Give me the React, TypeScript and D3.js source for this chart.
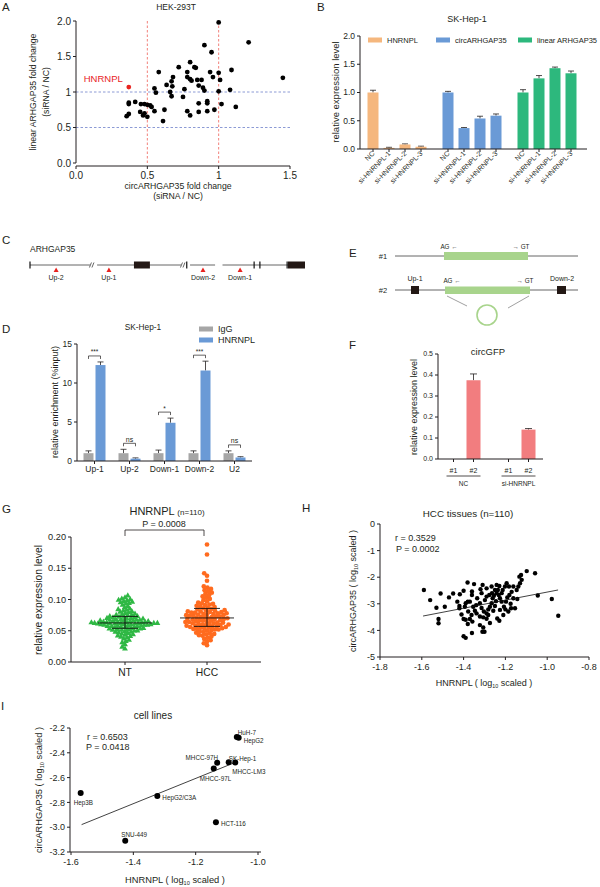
import React from 'react';
import * as d3 from 'd3';

const FONT = "'Liberation Sans', Arial, Helvetica, sans-serif";
const INK = '#231F20';

// ---------------- Panel A data ----------------
const aTitle = 'HEK-293T';
const aPoints: [number, number][] = [
  [1.0, 1.98], [1.21, 1.7], [1.45, 1.2], [0.9, 1.66], [0.95, 1.56], [1.09, 1.31], [0.8, 1.42],
  [0.72, 1.35], [0.83, 1.35], [0.84, 1.34], [0.58, 1.28], [0.94, 1.28], [1.0, 1.27], [0.96, 1.21],
  [0.78, 1.28], [0.68, 1.21], [0.78, 1.21], [0.8, 1.18], [0.81, 1.16], [0.67, 1.15], [0.85, 1.17],
  [0.88, 1.17], [1.01, 1.17], [0.635, 1.1], [0.675, 1.08], [0.86, 1.09], [0.89, 1.06], [0.55, 1.05],
  [0.56, 0.99], [0.66, 1.0], [0.76, 1.04], [0.9, 1.02], [1.0, 1.01], [1.08, 1.03], [0.67, 0.94],
  [0.75, 0.93], [0.37, 0.85], [0.37, 0.83], [0.415, 0.86], [0.455, 0.83], [0.48, 0.83], [0.5, 0.82],
  [0.52, 0.81], [0.53, 0.79], [0.86, 0.84], [0.92, 0.87], [0.92, 0.84], [1.02, 0.83], [1.12, 0.79],
  [0.45, 0.72], [0.48, 0.7], [0.55, 0.73], [0.62, 0.75], [0.78, 0.73], [0.86, 0.72], [0.92, 0.73],
  [0.97, 0.75], [0.37, 0.69], [0.355, 0.66], [0.47, 0.67], [0.5, 0.65], [0.61, 0.59], [0.8, 0.67],
];
const aHighlightName = 'HNRNPL';
const aHighlight: [number, number] = [0.37, 1.07];
const aXTicks = [0, 0.5, 1, 1.5];
const aXLabels = ['0.0', '0.5', '1', '1.5'];
const aYTicks = [0, 0.5, 1, 1.5, 2];
const aYLabels = ['0.0', '0.5', '1', '1.5', '2.0'];
const aRefX = [0.5, 1];
const aRefY = [0.5, 1];

// ---------------- Panel B data ----------------
const bTitle = 'SK-Hep-1';
const bSeries = ['HNRNPL', 'circARHGAP35', 'linear ARHGAP35'];
const bConditions = ['NC', 'si-HNRNPL-1', 'si-HNRNPL-2', 'si-HNRNPL-3'];
const bHNRNPL = [1.0, 0.02, 0.08, 0.04];
const bHNRNPLErr = [0.04, 0.01, 0.01, 0.01];
const bCirc = [1.0, 0.37, 0.54, 0.59];
const bCircErr = [0.02, 0.01, 0.04, 0.03];
const bLinear = [1.0, 1.25, 1.43, 1.34];
const bLinearErr = [0.05, 0.05, 0.02, 0.04];
const bYTicks = [0, 0.5, 1, 1.5, 2];

// ---------------- Panel D data ----------------
const dTitle = 'SK-Hep-1';
const dSites = ['Up-1', 'Up-2', 'Down-1', 'Down-2', 'U2'];
const dIgG = [1.0, 1.0, 1.0, 1.0, 1.0];
const dIgGErr = [0.3, 0.5, 0.4, 0.3, 0.3];
const dHNRNPL = [12.3, 0.3, 4.9, 11.6, 0.45];
const dHNRNPLErr = [0.4, 0.1, 0.6, 1.2, 0.1];
const dSig = ['***', 'ns', '*', '***', 'ns'];
const dYTicks = [0, 5, 10, 15];

// ---------------- Panel F data ----------------
const fTitle = 'circGFP';
const fGroups = ['NC', 'si-HNRNPL'];
const fConstructs = ['#1', '#2'];
const fValues = [[0, 0.375], [0, 0.14]];
const fErr = [[0, 0.03], [0, 0.005]];
const fYTicks = [0, 0.1, 0.2, 0.3, 0.4, 0.5];

// ---------------- Panel G data ----------------
const gGroups = ['NT', 'HCC'];
const gNT = [
  0.021, 0.024, 0.028, 0.031, 0.033, 0.035, 0.037, 0.039, 0.04, 0.041,
  0.042, 0.043, 0.044, 0.045, 0.046, 0.047, 0.048, 0.048, 0.049, 0.05,
  0.05, 0.051, 0.051, 0.052, 0.052, 0.053, 0.053, 0.054, 0.054, 0.055,
  0.055, 0.056, 0.056, 0.057, 0.057, 0.057, 0.058, 0.058, 0.058, 0.059,
  0.059, 0.059, 0.06, 0.06, 0.06, 0.06, 0.061, 0.061, 0.061, 0.061,
  0.062, 0.062, 0.062, 0.062, 0.062, 0.063, 0.063, 0.063, 0.063, 0.064,
  0.064, 0.064, 0.065, 0.065, 0.065, 0.066, 0.066, 0.066, 0.067, 0.067,
  0.067, 0.068, 0.068, 0.069, 0.069, 0.07, 0.07, 0.071, 0.071, 0.072,
  0.072, 0.073, 0.073, 0.074, 0.075, 0.075, 0.076, 0.077, 0.078, 0.079,
  0.08, 0.081, 0.082, 0.083, 0.084, 0.085, 0.087, 0.089, 0.091, 0.093,
  0.094, 0.095, 0.096, 0.097, 0.098, 0.099, 0.1, 0.101, 0.103, 0.106,
];
const gHCC = [
  0.027, 0.03, 0.033, 0.035, 0.037, 0.039, 0.041, 0.042, 0.043, 0.044,
  0.045, 0.046, 0.047, 0.048, 0.049, 0.05, 0.051, 0.052, 0.052, 0.053,
  0.053, 0.054, 0.054, 0.055, 0.055, 0.056, 0.056, 0.057, 0.057, 0.058,
  0.058, 0.059, 0.059, 0.06, 0.06, 0.061, 0.061, 0.062, 0.062, 0.063,
  0.063, 0.064, 0.064, 0.065, 0.065, 0.066, 0.066, 0.067, 0.067, 0.068,
  0.068, 0.069, 0.069, 0.07, 0.07, 0.071, 0.071, 0.072, 0.072, 0.073,
  0.073, 0.074, 0.074, 0.075, 0.075, 0.076, 0.076, 0.077, 0.077, 0.078,
  0.078, 0.079, 0.079, 0.08, 0.08, 0.081, 0.081, 0.082, 0.082, 0.083,
  0.084, 0.085, 0.086, 0.087, 0.088, 0.089, 0.09, 0.091, 0.092, 0.093,
  0.094, 0.095, 0.097, 0.099, 0.101, 0.103, 0.105, 0.107, 0.109, 0.111,
  0.113, 0.115, 0.117, 0.119, 0.121, 0.13, 0.138, 0.142, 0.172, 0.188,
];
const gYTicks = [0, 0.05, 0.1, 0.15, 0.2];
const gPText = 'P = 0.0008';

// ---------------- Panel H data ----------------
const hTitle = 'HCC tissues (n=110)';
const hR = 'r = 0.3529';
const hP = 'P = 0.0002';
const hPoints: [number, number][] = [
  [-1.59, -2.48], [-1.56, -2.86], [-1.53, -3.15], [-1.52, -3.57], [-1.52, -3.73], [-1.51, -2.61],
  [-1.49, -3.11], [-1.47, -2.76], [-1.45, -2.61], [-1.43, -2.92], [-1.42, -3.08], [-1.42, -3.17],
  [-1.4, -2.51], [-1.41, -3.4], [-1.4, -3.57], [-1.39, -3.6], [-1.37, -3.57], [-1.36, -2.67],
  [-1.35, -2.26], [-1.36, -2.54], [-1.38, -2.92], [-1.39, -2.98], [-1.38, -3.76], [-1.36, -4.1],
  [-1.4, -4.22], [-1.39, -4.28], [-1.31, -4.05], [-1.3, -4.05], [-1.354, -3.11], [-1.346, -3.26],
  [-1.338, -3.36], [-1.322, -3.48], [-1.306, -3.51], [-1.29, -3.56], [-1.335, -2.79], [-1.322, -2.98],
  [-1.314, -3.16], [-1.303, -3.29], [-1.29, -3.36], [-1.282, -3.21], [-1.274, -3.11], [-1.266, -2.98],
  [-1.261, -2.79], [-1.255, -2.7], [-1.242, -2.6], [-1.236, -2.48], [-1.229, -2.33], [-1.242, -2.29],
  [-1.25, -2.48], [-1.264, -2.6], [-1.277, -2.67], [-1.29, -2.73], [-1.298, -2.86], [-1.309, -2.29],
  [-1.319, -2.45], [-1.314, -2.6], [-1.232, -2.67], [-1.226, -2.79], [-1.218, -2.92], [-1.207, -3.11],
  [-1.197, -2.92], [-1.191, -2.76], [-1.181, -2.67], [-1.202, -2.35], [-1.194, -2.23], [-1.162, -2.79],
  [-1.175, -3.0], [-1.173, -3.17], [-1.2, -3.21], [-1.226, -3.23], [-1.239, -3.55], [-1.229, -3.64],
  [-1.274, -3.72], [-1.133, -1.98], [-1.125, -1.92], [-1.098, -1.77], [-1.058, -1.85], [-1.122, -2.1],
  [-1.138, -2.35], [-1.13, -2.23], [-1.146, -2.48], [-1.045, -2.69], [-0.978, -2.82], [-0.947, -3.45],
  [-1.143, -2.82], [-1.154, -3.17], [-1.186, -3.29], [-1.21, -3.42], [-1.381, -2.2], [-1.418, -2.64],
  [-1.37, -2.92], [-1.394, -3.11], [-1.378, -3.29], [-1.362, -3.42], [-1.358, -3.67], [-1.322, -3.8],
  [-1.306, -3.89], [-1.282, -3.42], [-1.258, -3.26], [-1.25, -3.08], [-1.213, -2.48], [-1.218, -2.6],
  [-1.162, -2.35], [-1.183, -2.35], [-1.29, -2.42], [-1.266, -2.35], [-1.17, -2.55],
  [-1.245, -2.9], [-1.34, -3.05],
];
const hFit = { slope: 1.517, intercept: -1.042, from: -1.594, to: -0.948 };
const hXTicks = [-1.8, -1.6, -1.4, -1.2, -1.0, -0.8];
const hYTicks = [0, -1, -2, -3, -4, -5];

// ---------------- Panel I data ----------------
const iTitle = 'cell lines';
const iR = 'r = 0.6503';
const iP = 'P = 0.0418';
const iNames = ['Hep3B', 'SNU-449', 'HepG2/C3A', 'HCT-116', 'MHCC-97H', 'MHCC-97L', 'SK-Hep-1', 'MHCC-LM3', 'HuH-7', 'HepG2'];
const iX = [-1.569, -1.426, -1.323, -1.135, -1.131, -1.142, -1.094, -1.073, -1.068, -1.062];
const iY = [-2.725, -3.11, -2.749, -2.96, -2.481, -2.527, -2.476, -2.479, -2.272, -2.278];
const iFit = { slope: 1.018, intercept: -1.385, from: -1.566, to: -1.079 };
const iXTicks = [-1.6, -1.4, -1.2, -1.0];
const iYTicks = [-2.2, -2.4, -2.6, -2.8, -3.0, -3.2];

// label placement (layout only)
const iLabelLayout: Record<string, [number, number, string]> = {
  'Hep3B': [-7, 10, 'start'],
  'SNU-449': [-4, -6, 'start'],
  'HepG2/C3A': [5, 2, 'start'],
  'HCT-116': [5, 2, 'start'],
  'MHCC-97H': [1, -5, 'end'],
  'MHCC-97L': [-14, 10, 'start'],
  'SK-Hep-1': [0, -3, 'start'],
  'MHCC-LM3': [-3, 9, 'start'],
  'HuH-7': [1, -4, 'start'],
  'HepG2': [5, 3, 'start'],
};

// ---------------- helpers ----------------
const fmtNum = (f: string) => (v: number) => d3.format(f)(v).replace('\u2212', '-');

function T(props: any) {
  return <text fontFamily={FONT} fill={INK} {...props} />;
}

function LeftAxis({ scale, x, ticks, labels, fontSize, len = 3 }: any) {
  const r = scale.range();
  return (
    <g>
      <line x1={x} x2={x} y1={r[0]} y2={r[1]} stroke={INK} strokeWidth={1} />
      {ticks.map((t: number, i: number) => (
        <g key={i}>
          <line x1={x - len} x2={x} y1={scale(t)} y2={scale(t)} stroke={INK} strokeWidth={1} />
          <T x={x - len - 2} y={scale(t)} dy="0.35em" textAnchor="end" fontSize={fontSize}>{labels[i]}</T>
        </g>
      ))}
    </g>
  );
}

function BottomAxis({ positions, y, x1, x2, labels, fontSize, len = 3, labelDy = 10 }: any) {
  return (
    <g>
      <line x1={x1} x2={x2} y1={y} y2={y} stroke={INK} strokeWidth={1} />
      {positions.map((p: number, i: number) => (
        <g key={i}>
          <line x1={p} x2={p} y1={y} y2={y + len} stroke={INK} strokeWidth={1} />
          {labels && <T x={p} y={y + len + labelDy} textAnchor="middle" fontSize={fontSize}>{labels[i]}</T>}
        </g>
      ))}
    </g>
  );
}

function RotLabel({ x, y, children, fontSize }: any) {
  return (
    <T transform={`translate(${x},${y}) rotate(-90)`} textAnchor="middle" dy="0.35em" fontSize={fontSize}>{children}</T>
  );
}

function PanelLetter({ x, y, ch }: any) {
  return <T x={x} y={y} fontSize={11.5}>{ch}</T>;
}

function ErrBar({ x, yTop, yBase, w = 3.5 }: any) {
  return (
    <g stroke={INK} strokeWidth={0.8}>
      <line x1={x} x2={x} y1={yBase} y2={yTop} />
      <line x1={x - w} x2={x + w} y1={yTop} y2={yTop} />
    </g>
  );
}

function beeswarm(values: number[], y: (v: number) => number, cx: number, r: number) {
  const items = values.map((v) => ({ v, py: y(v) })).sort((a, b) => b.py - a.py);
  const placed: { x: number; y: number }[] = [];
  for (const p of items) {
    let off = 0;
    for (let k = 0; k < 400; k++) {
      const o = (k % 2 === 0 ? 1 : -1) * Math.ceil(k / 2) * 0.4;
      const xx = cx + o;
      let ok = true;
      for (const q of placed) {
        const dx = q.x - xx, dy = q.y - p.py;
        if (dx * dx + dy * dy < 4 * r * r) { ok = false; break; }
      }
      if (ok) { off = o; break; }
    }
    placed.push({ x: cx + off, y: p.py });
  }
  return placed;
}

// ---------------- Panels ----------------
function PanelA() {
  const x = d3.scaleLinear().domain([0, 1.5]).range([76, 290]);
  const y = d3.scaleLinear().domain([0, 2]).range([163, 21]);
  return (
    <g>
      <PanelLetter x={2} y={11} ch="A" />
      <T x={176} y={10} textAnchor="middle" fontSize={8.5}>{aTitle}</T>
      {aRefY.map((v) => (
        <line key={'ry' + v} x1={x(0)} x2={x(1.5)} y1={y(v)} y2={y(v)} stroke="#7F8FD0" strokeWidth={0.9} strokeDasharray="2.5,2" />
      ))}
      {aRefX.map((v) => (
        <line key={'rx' + v} x1={x(v)} x2={x(v)} y1={y(0)} y2={y(2)} stroke="#F0736B" strokeWidth={0.9} strokeDasharray="2.5,2" />
      ))}
      <LeftAxis scale={y} x={76} ticks={aYTicks} labels={aYLabels} fontSize={10} />
      <BottomAxis positions={aXTicks.map(x)} y={166} x1={76} x2={290} labels={aXLabels} fontSize={10} labelDy={10} />
      {aPoints.map((p, i) => (
        <circle key={i} cx={x(p[0])} cy={y(p[1])} r={2.4} fill="#000" />
      ))}
      <circle cx={x(aHighlight[0])} cy={y(aHighlight[1])} r={2.4} fill="#E8231F" />
      <T x={x(aHighlight[0]) - 6} y={y(aHighlight[1]) - 5} textAnchor="end" fontSize={9.5} fill="#E8231F">{aHighlightName}</T>
      <T x={178} y={189} textAnchor="middle" fontSize={8.7}>circARHGAP35 fold change</T>
      <T x={178} y={199} textAnchor="middle" fontSize={8.7}>(siRNA / NC)</T>
      <RotLabel x={33} y={92} fontSize={8.7}>linear ARHGAP35 fold change</RotLabel>
      <RotLabel x={46} y={92} fontSize={8.7}>(siRNA / NC)</RotLabel>
    </g>
  );
}

function PanelB() {
  const y = d3.scaleLinear().domain([0, 2]).range([149, 36]);
  const xg = d3.scaleBand().domain(bSeries).range([365, 579]).paddingInner(11 / 75);
  const xc = d3.scalePoint().domain(bConditions).range([8, 56]);
  const colors = ['#F5B77E', '#6A9AD6', '#2DB87D'];
  const vals = [bHNRNPL, bCirc, bLinear];
  const errs = [bHNRNPLErr, bCircErr, bLinearErr];
  const bw = 11;
  const legendX = [368, 436, 518];
  return (
    <g>
      <PanelLetter x={317} y={11} ch="B" />
      <T x={467} y={22} textAnchor="middle" fontSize={9}>{bTitle}</T>
      {bSeries.map((s, i) => (
        <g key={s}>
          <rect x={legendX[i]} y={37.5} width={14} height={5} fill={colors[i]} />
          <T x={legendX[i] + 19} y={40} dy="0.35em" fontSize={7.5}>{s}</T>
        </g>
      ))}
      {bSeries.map((s, si) =>
        bConditions.map((c, ci) => {
          const cx = (xg(s) as number) + (xc(c) as number);
          const v = vals[si][ci];
          const e = errs[si][ci];
          return (
            <g key={s + c}>
              <ErrBar x={cx} yTop={y(v + e)} yBase={y(v)} w={3} />
              <rect x={cx - bw / 2} y={y(v)} width={bw} height={y(0) - y(v)} fill={colors[si]} />
              <T transform={`translate(${cx + 2},${154}) rotate(-45)`} textAnchor="end" fontSize={7}>{c}</T>
            </g>
          );
        })
      )}
      <LeftAxis scale={y} x={360} ticks={bYTicks} labels={bYTicks.map(fmtNum('.1f'))} fontSize={8.5} />
      <line x1={360} x2={587} y1={149} y2={149} stroke={INK} />
      {bSeries.map((s) =>
        bConditions.map((c) => {
          const cx = (xg(s) as number) + (xc(c) as number);
          return <line key={'t' + s + c} x1={cx} x2={cx} y1={149} y2={152} stroke={INK} />;
        })
      )}
      <RotLabel x={336} y={92} fontSize={9.5}>relative expression level</RotLabel>
    </g>
  );
}

function PanelC() {
  const g = d3.scaleLinear().domain([0, 100]).range([30, 305]);
  const segs: [number, number][] = [[0, 21.8], [24.4, 54.9], [58.2, 67.3], [70, 100]];
  const ticks = [0, 57, 81.5, 83.6, 93.5];
  const exons: [number, number][] = [[37.8, 43.6], [93.8, 100]];
  const sites = [{ n: 'Up-2', p: 9.5 }, { n: 'Up-1', p: 28.7 }, { n: 'Down-2', p: 62.9 }, { n: 'Down-1', p: 76.4 }];
  const ly = 265;
  return (
    <g>
      <PanelLetter x={2} y={244} ch="C" />
      <T x={30} y={252} fontSize={8.5}>ARHGAP35</T>
      {segs.map((s, i) => (
        <line key={i} x1={g(s[0])} x2={g(s[1])} y1={ly} y2={ly} stroke="#555" strokeWidth={0.9} />
      ))}
      {[21.8, 54.9].map((b, i) => (
        <g key={'br' + i} stroke="#555" strokeWidth={0.9}>
          <line x1={g(b) - 0.5} x2={g(b) + 1.5} y1={ly + 2.5} y2={ly - 2.5} />
          <line x1={g(b) + 2} x2={g(b) + 4} y1={ly + 2.5} y2={ly - 2.5} />
        </g>
      ))}
      {ticks.map((t, i) => (
        <line key={'tk' + i} x1={g(t)} x2={g(t)} y1={ly - 3.5} y2={ly + 3.5} stroke="#111" strokeWidth={1.2} />
      ))}
      {exons.map((e, i) => (
        <rect key={'ex' + i} x={g(e[0])} y={ly - 3.5} width={g(e[1]) - g(e[0])} height={7} fill="#231815" />
      ))}
      {sites.map((s) => (
        <g key={s.n}>
          <path d={`M${g(s.p) - 2.5},${ly + 7} L${g(s.p) + 2.5},${ly + 7} L${g(s.p)},${ly + 2.5} Z`} fill="#E8231F" />
          <T x={g(s.p)} y={ly + 15} textAnchor="middle" fontSize={7}>{s.n}</T>
        </g>
      ))}
    </g>
  );
}

function PanelE() {
  const green = '#A8D48C';
  return (
    <g>
      <PanelLetter x={349} y={257} ch="E" />
      <T x={383} y={256} dy="0.35em" textAnchor="middle" fontSize={7.5}>#1</T>
      <line x1={395} x2={578} y1={256} y2={256} stroke="#555" strokeWidth={0.9} />
      <rect x={444} y={252} width={84} height={8} fill={green} />
      <T x={449} y={249} textAnchor="middle" fontSize={6.3}>AG ←</T>
      <T x={521} y={249} textAnchor="middle" fontSize={6.3}>→ GT</T>

      <T x={383} y={290} dy="0.35em" textAnchor="middle" fontSize={7.5}>#2</T>
      <line x1={395} x2={578} y1={290} y2={290} stroke="#555" strokeWidth={0.9} />
      <rect x={411} y={286} width={8} height={8} fill="#231815" />
      <rect x={557} y={286} width={9} height={8} fill="#231815" />
      <rect x={445} y={286.5} width={85} height={7.5} fill={green} />
      <T x={415} y={281} textAnchor="middle" fontSize={7}>Up-1</T>
      <T x={562} y={281} textAnchor="middle" fontSize={7}>Down-2</T>
      <T x={452} y={283} textAnchor="middle" fontSize={6.3}>AG ←</T>
      <T x={525} y={283} textAnchor="middle" fontSize={6.3}>→ GT</T>
      <line x1={447} x2={467} y1={296} y2={306} stroke="#777" strokeWidth={0.7} />
      <line x1={529} x2={508} y1={296} y2={308} stroke="#777" strokeWidth={0.7} />
      <circle cx={487} cy={315} r={10} fill="none" stroke={green} strokeWidth={1.6} />
    </g>
  );
}

function PanelD() {
  const y = d3.scaleLinear().domain([0, 15]).range([461, 344]);
  const x = d3.scaleBand().domain(dSites).range([77, 252]);
  const bw = 10;
  const grey = '#A6A6A6';
  const blue = '#6A9AD6';
  return (
    <g>
      <PanelLetter x={2} y={333} ch="D" />
      <T x={143} y={330} textAnchor="middle" fontSize={8.3}>{dTitle}</T>
      <rect x={199} y={326.5} width={14} height={5} fill={grey} />
      <T x={218} y={329} dy="0.35em" fontSize={9}>IgG</T>
      <rect x={199} y={337.5} width={14} height={5} fill={blue} />
      <T x={218} y={340} dy="0.35em" fontSize={9}>HNRNPL</T>
      {dSites.map((s, i) => {
        const c = (x(s) as number) + x.bandwidth() / 2;
        const gx = c - 6, hx = c + 6;
        const top = Math.max(dIgG[i] + dIgGErr[i], dHNRNPL[i] + dHNRNPLErr[i]);
        const legB = y(top) - 3;
        const legT = legB - 3;
        return (
          <g key={s}>
            <ErrBar x={gx} yTop={y(dIgG[i] + dIgGErr[i])} yBase={y(dIgG[i])} w={3} />
            <rect x={gx - bw / 2} y={y(dIgG[i])} width={bw} height={y(0) - y(dIgG[i])} fill={grey} />
            <ErrBar x={hx} yTop={y(dHNRNPL[i] + dHNRNPLErr[i])} yBase={y(dHNRNPL[i])} w={3} />
            <rect x={hx - bw / 2} y={y(dHNRNPL[i])} width={bw} height={y(0) - y(dHNRNPL[i])} fill={blue} />
            <path d={`M${gx},${legB} L${gx},${legT} L${hx},${legT} L${hx},${legB}`} fill="none" stroke={INK} strokeWidth={0.7} />
            <T x={c} y={legT - 1.5} textAnchor="middle" fontSize={dSig[i] === 'ns' ? 7 : 6.5}>{dSig[i]}</T>
            <T x={c} y={472} textAnchor="middle" fontSize={8.5}>{s}</T>
          </g>
        );
      })}
      <LeftAxis scale={y} x={77} ticks={dYTicks} labels={dYTicks.map(String)} fontSize={8.5} />
      <line x1={77} x2={252} y1={461} y2={461} stroke={INK} />
      {dSites.map((s) => {
        const c = (x(s) as number) + x.bandwidth() / 2;
        return <line key={'t' + s} x1={c} x2={c} y1={461} y2={464} stroke={INK} />;
      })}
      <RotLabel x={55} y={402} fontSize={9}>relative enrichment (%input)</RotLabel>
    </g>
  );
}

function PanelF() {
  const y = d3.scaleLinear().domain([0, 0.5]).range([459, 354]);
  const xg = d3.scaleBand().domain(fGroups).range([436, 546]);
  const xc = d3.scalePoint().domain(fConstructs).range([-10, 10]);
  const bw = 14;
  const col = '#F27D7F';
  return (
    <g>
      <PanelLetter x={349} y={349} ch="F" />
      <T x={488} y={355} textAnchor="middle" fontSize={9.5}>{fTitle}</T>
      {fGroups.map((g, gi) => {
        const gc = (xg(g) as number) + xg.bandwidth() / 2;
        return (
          <g key={g}>
            {fConstructs.map((c, ci) => {
              const cx = gc + (xc(c) as number);
              const v = fValues[gi][ci];
              const e = fErr[gi][ci];
              return (
                <g key={c}>
                  {v > 0 && <ErrBar x={cx} yTop={y(v + e)} yBase={y(v)} w={3.5} />}
                  {v > 0 && <rect x={cx - bw / 2} y={y(v)} width={bw} height={y(0) - y(v)} fill={col} />}
                  <line x1={cx} x2={cx} y1={459} y2={462} stroke={INK} />
                  <T x={cx} y={473} textAnchor="middle" fontSize={7}>{c}</T>
                </g>
              );
            })}
            <line x1={gc - 17} x2={gc + 17} y1={476} y2={476} stroke={INK} strokeWidth={0.8} />
            <T x={gc} y={486} textAnchor="middle" fontSize={6.5}>{g}</T>
          </g>
        );
      })}
      <LeftAxis scale={y} x={438} ticks={fYTicks} labels={fYTicks.map(fmtNum('.1f'))} fontSize={7} />
      <line x1={438} x2={543} y1={459} y2={459} stroke={INK} />
      <RotLabel x={414} y={407} fontSize={9}>relative expression level</RotLabel>
    </g>
  );
}

function PanelG() {
  const y = d3.scaleLinear().domain([0, 0.2]).range([662, 537]);
  const x = d3.scalePoint().domain(gGroups).range([125, 207]);
  const ntX = x('NT') as number;
  const hccX = x('HCC') as number;
  const nt = beeswarm(gNT, y, ntX, 1.6);
  const hcc = beeswarm(gHCC, y, hccX, 1.75);
  const tri = d3.symbol().type(d3.symbolTriangle).size(15)() as string;
  const stats = (vals: number[]) => {
    const s = [...vals].sort(d3.ascending);
    return [d3.quantile(s, 0.25) as number, d3.quantile(s, 0.5) as number, d3.quantile(s, 0.75) as number];
  };
  const sNT = stats(gNT);
  const sHCC = stats(gHCC);
  const StatLines = ({ cx, s }: any) => (
    <g stroke="#111" strokeWidth={0.9}>
      <line x1={cx - 27} x2={cx + 27} y1={y(s[1])} y2={y(s[1])} />
      <line x1={cx} x2={cx} y1={y(s[0])} y2={y(s[2])} />
      <line x1={cx - 13} x2={cx + 13} y1={y(s[0])} y2={y(s[0])} />
      <line x1={cx - 13} x2={cx + 13} y1={y(s[2])} y2={y(s[2])} />
    </g>
  );
  return (
    <g>
      <PanelLetter x={2} y={513} ch="G" />
      <T x={167} y={515} textAnchor="middle">
        <tspan fontSize={11}>HNRNPL </tspan>
        <tspan fontSize={8}>(n=110)</tspan>
      </T>
      <T x={164} y={527} textAnchor="middle" fontSize={9}>{gPText}</T>
      <path d={`M${ntX},536 L${ntX},530 L${hccX - 3},530 L${hccX - 3},536`} fill="none" stroke={INK} strokeWidth={0.8} />
      {nt.map((p, i) => (
        <path key={'n' + i} d={tri} transform={`translate(${p.x},${p.y})`} fill="#2FB844" />
      ))}
      {hcc.map((p, i) => (
        <circle key={'h' + i} cx={p.x} cy={p.y} r={2.35} fill="#FF6B1F" />
      ))}
      <StatLines cx={ntX} s={sNT} />
      <StatLines cx={hccX} s={sHCC} />
      <LeftAxis scale={y} x={71} ticks={gYTicks} labels={gYTicks.map(fmtNum('.2f'))} fontSize={9.2} />
      <BottomAxis positions={[ntX, hccX]} y={662} x1={71} x2={261} labels={gGroups} fontSize={10.3} labelDy={11} />
      <RotLabel x={38} y={600} fontSize={10.3}>relative expression level</RotLabel>
    </g>
  );
}

function Log10Label({ x, y, rotate, pre, fontSize }: any) {
  return (
    <T transform={`translate(${x},${y})${rotate ? ' rotate(-90)' : ''}`} textAnchor="middle" dy="0.35em" fontSize={fontSize}>
      {pre} ( log<tspan fontSize={fontSize * 0.6} dy="2">10</tspan><tspan dy="-2"> scaled )</tspan>
    </T>
  );
}

function PanelH() {
  const x = d3.scaleLinear().domain([-1.8, -0.8]).range([380, 589]);
  const y = d3.scaleLinear().domain([-5, 0]).range([657, 524]);
  const fitY = (v: number) => hFit.slope * v + hFit.intercept;
  return (
    <g>
      <PanelLetter x={302} y={512} ch="H" />
      <T x={468} y={517} textAnchor="middle" fontSize={9.8}>{hTitle}</T>
      <T x={395} y={541} fontSize={9}>{hR}</T>
      <T x={396} y={552} fontSize={9}>{hP}</T>
      {hPoints.map((p, i) => (
        <circle key={i} cx={x(p[0])} cy={y(p[1])} r={2.2} fill="#000" />
      ))}
      <line x1={x(hFit.from)} x2={x(hFit.to)} y1={y(fitY(hFit.from))} y2={y(fitY(hFit.to))} stroke="#111" strokeWidth={0.8} />
      <LeftAxis scale={y} x={380} ticks={hYTicks} labels={hYTicks.map(String)} fontSize={9} />
      <BottomAxis positions={hXTicks.map(x)} y={657} x1={380} x2={589} labels={hXTicks.map(fmtNum('.1f'))} fontSize={9} labelDy={10} />
      <Log10Label x={353} y={591} rotate pre="circARHGAP35" fontSize={9} />
      <Log10Label x={484} y={683} pre="HNRNPL" fontSize={9} />
    </g>
  );
}

function PanelI() {
  const x = d3.scaleLinear().domain([-1.6, -1.0]).range([71, 258]);
  const y = d3.scaleLinear().domain([-3.2, -2.2]).range([852, 728]);
  const fitY = (v: number) => iFit.slope * v + iFit.intercept;
  return (
    <g>
      <PanelLetter x={1} y={710} ch="I" />
      <T x={153} y={719} textAnchor="middle" fontSize={10}>{iTitle}</T>
      <T x={87} y={740} fontSize={9}>{iR}</T>
      <T x={86} y={750} fontSize={9}>{iP}</T>
      <line x1={x(iFit.from)} x2={x(iFit.to)} y1={y(fitY(iFit.from))} y2={y(fitY(iFit.to))} stroke="#111" strokeWidth={0.8} />
      {iNames.map((n, i) => {
        const lay = iLabelLayout[n];
        return (
          <g key={n}>
            <circle cx={x(iX[i])} cy={y(iY[i])} r={3} fill="#000" />
            <T x={x(iX[i]) + lay[0]} y={y(iY[i]) + lay[1]} dy="0.35em" textAnchor={lay[2]} fontSize={6.3}>{n}</T>
          </g>
        );
      })}
      <LeftAxis scale={y} x={70} ticks={iYTicks} labels={iYTicks.map(fmtNum('.1f'))} fontSize={9} />
      <BottomAxis positions={iXTicks.map(x)} y={852} x1={70} x2={261} labels={iXTicks.map(fmtNum('.1f'))} fontSize={9} labelDy={10} />
      <Log10Label x={39} y={790} rotate pre="circARHGAP35" fontSize={9.3} />
      <Log10Label x={175} y={880} pre="HNRNPL" fontSize={9.3} />
    </g>
  );
}

export default function App() {
  return (
    <svg width={600} height={887} viewBox="0 0 600 887" style={{ position: 'absolute', left: 0, top: 0, background: '#fff' }}>
      <rect x={0} y={0} width={600} height={887} fill="#fff" />
      <PanelA />
      <PanelB />
      <PanelC />
      <PanelE />
      <PanelD />
      <PanelF />
      <PanelG />
      <PanelH />
      <PanelI />
    </svg>
  );
}
